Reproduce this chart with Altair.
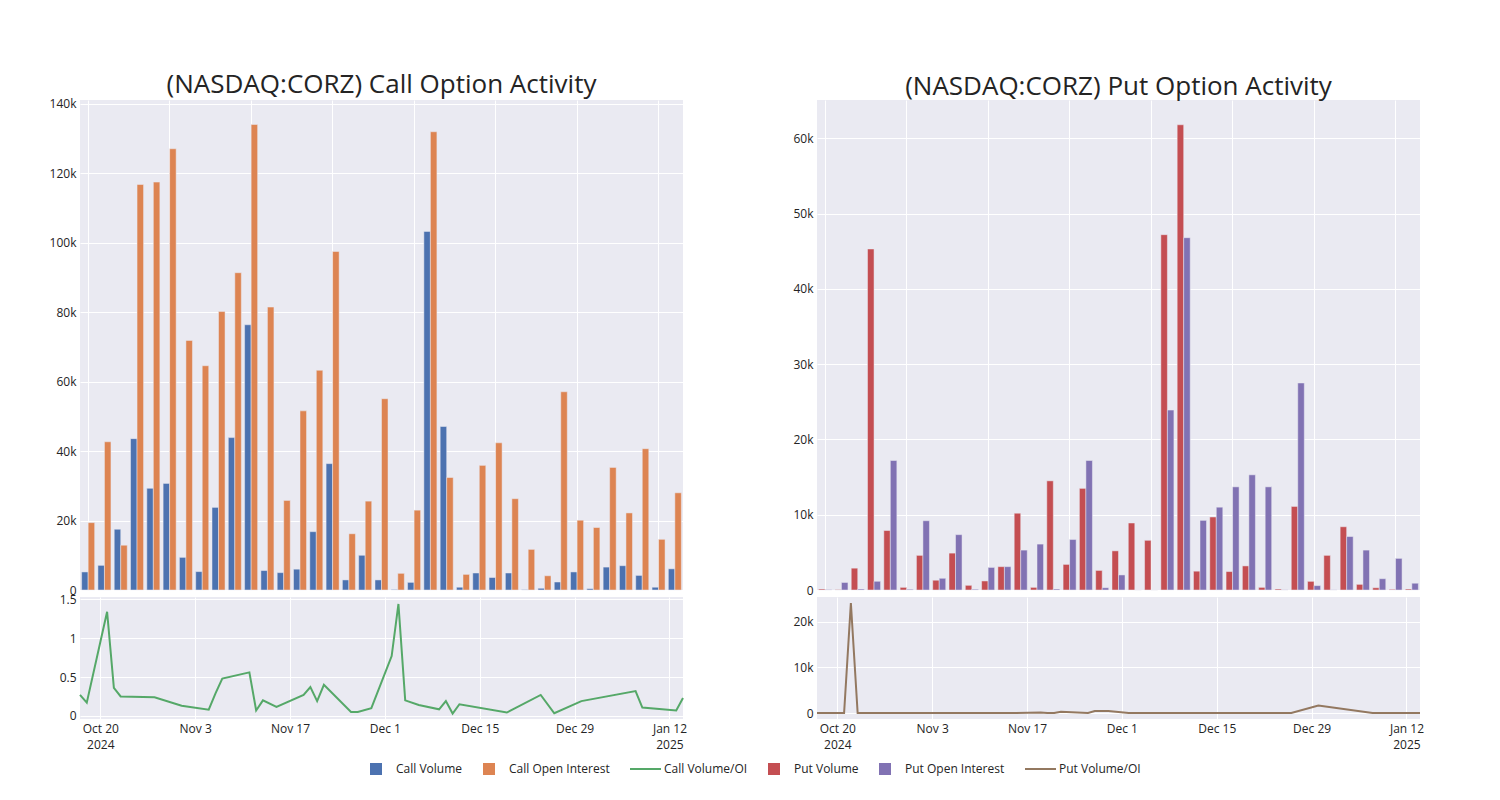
import altair as alt
import pandas as pd

# ---------------- data ----------------
dates = ["2024-10-17", "2024-10-18", "2024-10-21", "2024-10-22", "2024-10-23", "2024-10-28",
         "2024-11-01", "2024-11-05", "2024-11-06", "2024-11-07", "2024-11-11", "2024-11-12",
         "2024-11-13", "2024-11-15", "2024-11-19", "2024-11-20", "2024-11-21", "2024-11-22",
         "2024-11-26", "2024-11-27", "2024-11-29", "2024-12-02", "2024-12-03", "2024-12-04",
         "2024-12-06", "2024-12-09", "2024-12-10", "2024-12-11", "2024-12-12", "2024-12-19",
         "2024-12-24", "2024-12-26", "2024-12-30", "2025-01-07", "2025-01-08", "2025-01-13",
         "2025-01-14"]

call_volume = [5200, 7100, 17500, 43600, 29300, 30700, 9400, 5300, 23800, 43900, 76400, 5600,
               5000, 6000, 16800, 36400, 2900, 10000, 2900, 150, 2200, 103300, 47100, 800,
               4900, 3600, 4900, 100, 500, 2300, 5200, 380, 6600, 7000, 4200, 800, 6100]
call_open_interest = [19400, 42700, 12900, 116800, 117500, 127100, 71900, 64600, 80200, 91400,
                      134100, 81500, 25800, 51600, 63300, 97500, 16200, 25600, 55100, 4800,
                      23000, 132000, 32400, 4500, 35900, 42400, 26300, 11700, 4100, 57100,
                      20100, 18000, 35300, 22200, 40700, 14600, 28000]
call_vol_oi = [0.27, 0.17, 1.34, 0.36, 0.25, 0.24, 0.13, 0.08, 0.29, 0.48, 0.56, 0.07, 0.20,
               0.115, 0.27, 0.37, 0.19, 0.40, 0.05, 0.05, 0.10, 0.77, 1.44, 0.20, 0.14, 0.085,
               0.19, 0.03, 0.15, 0.043, 0.27, 0.034, 0.19, 0.32, 0.107, 0.07, 0.23]

put_volume = [130, 50, 2900, 45300, 7900, 350, 4600, 1300, 4900, 620, 1200, 3100, 10200, 350,
              14500, 3400, 13500, 2600, 5200, 8900, 6600, 47200, 61800, 2500, 9700, 2450, 3200,
              350, 130, 11100, 1150, 4600, 8400, 750, 300, 90, 130]
put_open_interest = [50, 1000, 130, 1150, 17200, 100, 9200, 1550, 7350, 100, 3000, 3100, 5300,
                     6100, 130, 6700, 17200, 300, 2000, 0, 0, 23900, 46800, 9250, 11000, 13700,
                     15300, 13700, 20, 27500, 580, 20, 7100, 5300, 1500, 4200, 900]
put_vol_oi = [3, 0.1, 20, 24100, 0.5, 3, 0.5, 0.8, 0.7, 6, 0.4, 1, 1.9, 0.1, 100, 0.5, 0.8,
              290, 2.6, 430, 430, 2, 1.3, 0.3, 0.9, 0.2, 0.2, 0.1, 6, 0.4, 2, 0.5, 1670,
              0.1, 0.2, 0.1, 0.1]

series_names = ["Call Volume", "Call Open Interest", "Call Volume/OI",
                "Put Volume", "Put Open Interest", "Put Volume/OI"]
series_colors = ["#4C72B0", "#DD8452", "#55A868", "#C44E52", "#8172B3", "#937860"]
bar_kinds = ["Volume", "Open Interest"]

x_tick_dates = ["2024-10-20", "2024-11-03", "2024-11-17", "2024-12-01", "2024-12-15",
                "2024-12-29", "2025-01-12"]
call_y_ticks = [0, 20000, 40000, 60000, 80000, 100000, 120000, 140000]
put_y_ticks = [0, 10000, 20000, 30000, 40000, 50000, 60000]
call_ratio_ticks = [0, 0.5, 1, 1.5]
put_ratio_ticks = [0, 10000, 20000]

# ---------------- styling ----------------
FONT = "Open Sans"
TXT = "#242424"
SQ = "M-1,-1H1V1H-1Z"
LN = "M-2.33,-0.17H2.83V0.17H-2.33Z"

color_scale = alt.Scale(domain=series_names, range=series_colors)
shape_scale = alt.Scale(domain=series_names, range=[SQ, SQ, LN, SQ, SQ, LN])

legend_def = alt.Legend(orient="none", legendX=290, legendY=663, direction="horizontal",
                        title=None, symbolSize=144, labelOffset=14, columnPadding=20,
                        labelFontSize=12, labelFont=FONT, labelColor=TXT, symbolOpacity=1,
                        symbolStrokeWidth=0)

tick_dt = [alt.DateTime(year=int(s[:4]), month=int(s[5:7]), date=int(s[8:]), utc=True)
           for s in x_tick_dates]

date_label_expr = (
    "(utcmonth(datum.value)==9 && utcdate(datum.value)==20) || utcmonth(datum.value)==0 ? "
    "[utcFormat(datum.value, '%b %-d'), utcFormat(datum.value, '%Y')] : "
    "utcFormat(datum.value, '%b %-d')"
)
k_label_expr = "datum.value == 0 ? '0' : format(datum.value / 1000, 'd') + 'k'"


def bars_frame(vol, oi, names):
    rows = []
    for d, a, b in zip(dates, vol, oi):
        rows.append({"date": d, "series": names[0], "kind": bar_kinds[0], "value": a})
        rows.append({"date": d, "series": names[1], "kind": bar_kinds[1], "value": b})
    return pd.DataFrame(rows)


def line_frame(vals, name):
    return pd.DataFrame({"date": dates, "series": [name] * len(dates), "value": vals})


def bar_panel(df, ymax, yticks, title):
    return alt.Chart(df).mark_bar(stroke="#EAEAF2", strokeWidth=0.5).encode(
        x=alt.X("date:O", sort=dates,
                scale=alt.Scale(paddingInner=0.2, paddingOuter=0.1),
                axis=alt.Axis(values=dates[::5], labels=False, ticks=False, domain=False,
                              title=None, grid=True)),
        xOffset=alt.XOffset("kind:N", sort=bar_kinds,
                            scale=alt.Scale(domain=bar_kinds, paddingInner=0, paddingOuter=0)),
        y=alt.Y("value:Q", scale=alt.Scale(domain=[0, ymax], nice=False),
                axis=alt.Axis(values=yticks, labelExpr=k_label_expr, title=None)),
        color=alt.Color("series:N", scale=color_scale, legend=legend_def),
    ).properties(
        width=603, height=490,
        title=alt.TitleParams(title, fontSize=26, frame="group", anchor="middle", offset=0,
                              font=FONT, color=TXT, fontWeight="normal"),
    )


def line_panel(df, ydomain, yticks, label_expr, with_legend=False):
    base = alt.Chart(df).encode(
        x=alt.X("date:T", scale=alt.Scale(type="utc", nice=False),
                axis=alt.Axis(values=tick_dt, labelExpr=date_label_expr, grid=True,
                              ticks=False, domain=False, title=None, labelLineHeight=16,
                              labelOverlap=False)),
        y=alt.Y("value:Q", scale=alt.Scale(domain=ydomain, nice=False, zero=False),
                axis=alt.Axis(values=yticks, labelExpr=label_expr, title=None)),
        color=alt.Color("series:N", scale=color_scale, legend=legend_def),
    )
    line = base.mark_line(strokeWidth=2)
    if not with_legend:
        return line.properties(width=603, height=122)
    pts = base.transform_filter("false").mark_point(filled=True).encode(
        shape=alt.Shape("series:N", scale=shape_scale, legend=legend_def),
    )
    return alt.layer(pts, line).properties(width=603, height=122)


call_top = bar_panel(bars_frame(call_volume, call_open_interest, series_names[0:2]),
                     141150, call_y_ticks, "(NASDAQ:CORZ) Call Option Activity")
call_bot = line_panel(line_frame(call_vol_oi, series_names[2]), [-0.04, 1.53],
                      call_ratio_ticks, "format(datum.value, '.1~f')", with_legend=True)
put_top = bar_panel(bars_frame(put_volume, put_open_interest, series_names[3:5]),
                    65090, put_y_ticks, "(NASDAQ:CORZ) Put Option Activity")
put_bot = line_panel(line_frame(put_vol_oi, series_names[5]), [-1300, 25400],
                     put_ratio_ticks, k_label_expr)

chart = alt.ConcatChart(
    concat=[call_top, put_top, call_bot, put_bot], columns=2,
    spacing=alt.RowColnumber(row=7, column=134), bounds="flush",
).resolve_scale(
    color="shared", shape="shared"
).resolve_legend(
    color="shared", shape="shared"
).properties(
    padding={"left": 41, "top": 63, "right": 5, "bottom": 5},
    background="white",
).configure_view(
    fill="#EAEAF2", stroke=None
).configure_axis(
    gridColor="white", gridWidth=1, domain=False, ticks=False,
    labelFont=FONT, labelFontSize=12, labelColor=TXT, labelPadding=4,
).configure_title(
    font=FONT, color=TXT
)

chart.save("out.html", embed_options={"renderer": "svg", "actions": False})
